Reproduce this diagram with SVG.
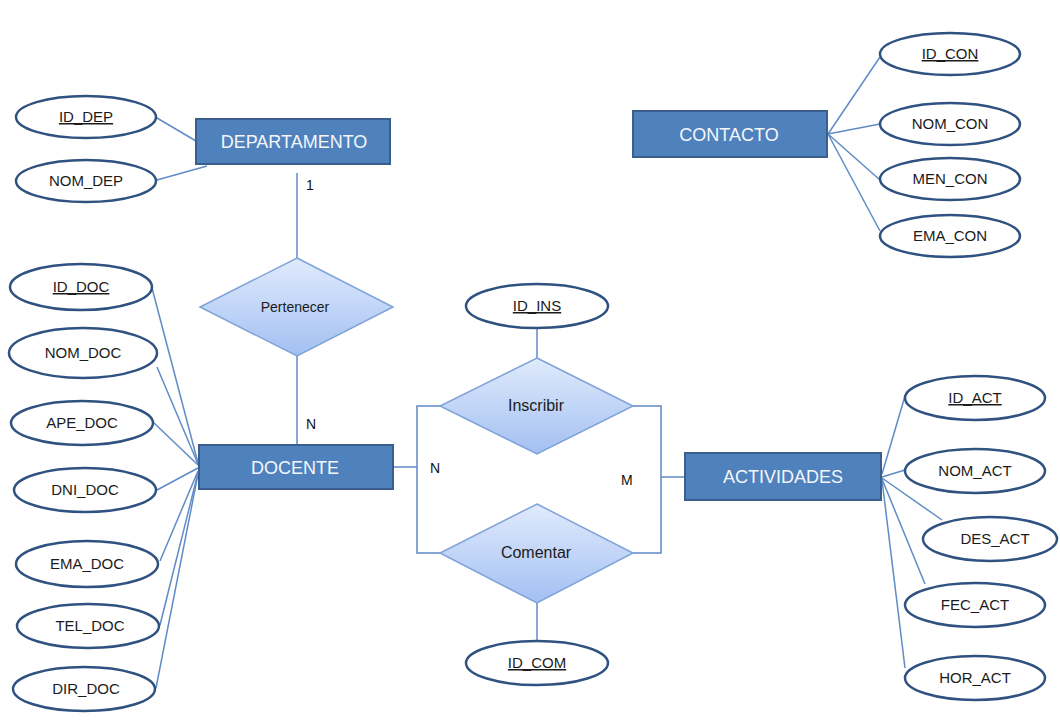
<svg xmlns="http://www.w3.org/2000/svg" width="1060" height="728" viewBox="0 0 1060 728">
  <defs>
    <linearGradient id="relFill" x1="0" y1="0" x2="0" y2="1">
      <stop offset="0" stop-color="#e0ebfc"/>
      <stop offset="1" stop-color="#a3c0f2"/>
    </linearGradient>
    <style>
      .entity rect { fill: #4f81bd; stroke: #3a5f8e; stroke-width: 2; }
      .entity text { font-family: "Liberation Sans", Arial, sans-serif; font-size: 18px; fill: #f4f6fa; text-anchor: middle; }
      .attr ellipse { fill: #ffffff; stroke: #2f5280; stroke-width: 2.5; }
      .attr text { font-family: "Liberation Sans", Arial, sans-serif; font-size: 15px; fill: #1b1b1b; text-anchor: middle; }
      .attr text.key { text-decoration: underline; }
      .rel polygon { fill: url(#relFill); stroke: #7fa3d8; stroke-width: 1.5; }
      .rel text { font-family: "Liberation Sans", Arial, sans-serif; font-size: 16px; fill: #1b1b1b; text-anchor: middle; }
      .connectors path, .connectors line { fill: none; stroke: #5f8bc7; stroke-width: 1.5; }
      .card { font-family: "Liberation Sans", Arial, sans-serif; font-size: 14px; fill: #111111; }
    </style>
  </defs>
  <rect width="1060" height="728" fill="#ffffff"/>

  <!-- connectors -->
  <g class="connectors">
    <!-- DEPARTAMENTO attributes -->
    <line x1="157" y1="118" x2="196" y2="141"/>
    <line x1="157" y1="180" x2="207" y2="166"/>
    <!-- DEPARTAMENTO - Pertenecer - DOCENTE -->
    <line x1="297" y1="173" x2="297" y2="258"/>
    <line x1="297" y1="356" x2="297" y2="445"/>
    <!-- DOCENTE attributes -->
    <line x1="152" y1="288" x2="198" y2="463"/>
    <line x1="157" y1="367" x2="198" y2="464"/>
    <line x1="154" y1="423" x2="198" y2="465"/>
    <line x1="157" y1="490" x2="198" y2="468"/>
    <line x1="160" y1="561" x2="198" y2="471"/>
    <line x1="160" y1="625" x2="198" y2="473"/>
    <line x1="156" y1="688" x2="198" y2="474"/>
    <!-- DOCENTE - Inscribir / Comentar -->
    <line x1="393" y1="467" x2="417" y2="467"/>
    <path d="M440 406 H417 V553 H440"/>
    <!-- Inscribir / Comentar - ACTIVIDADES -->
    <path d="M633 406 H661 V553 H633"/>
    <line x1="661" y1="477" x2="685" y2="477"/>
    <!-- relationship attributes -->
    <line x1="537" y1="329" x2="537" y2="358"/>
    <line x1="537" y1="603" x2="537" y2="641"/>
    <!-- ACTIVIDADES attributes -->
    <line x1="882" y1="474" x2="905" y2="396"/>
    <line x1="882" y1="477" x2="905" y2="470"/>
    <line x1="882" y1="478" x2="942" y2="520"/>
    <line x1="882" y1="479" x2="925" y2="584"/>
    <line x1="882" y1="480" x2="905" y2="668"/>
    <!-- CONTACTO attributes -->
    <line x1="828" y1="134" x2="880" y2="57"/>
    <line x1="828" y1="134" x2="880" y2="124"/>
    <line x1="828" y1="134" x2="880" y2="180"/>
    <line x1="828" y1="134" x2="880" y2="231"/>
  </g>

  <!-- cardinalities -->
  <text class="card" x="306" y="190">1</text>
  <text class="card" x="306" y="429">N</text>
  <text class="card" x="430" y="473">N</text>
  <text class="card" x="621" y="485">M</text>

  <!-- DEPARTAMENTO -->
  <g id="departamento" class="entity">
    <rect x="196" y="119" width="194" height="45"/>
    <text x="294" y="148">DEPARTAMENTO</text>
  </g>
  <g id="id_dep" class="attr">
    <ellipse cx="86" cy="117" rx="70" ry="21"/>
    <text class="key" x="86" y="122">ID_DEP</text>
  </g>
  <g id="nom_dep" class="attr">
    <ellipse cx="86" cy="181" rx="70" ry="21"/>
    <text x="86" y="186">NOM_DEP</text>
  </g>

  <!-- Pertenecer -->
  <g id="pertenecer" class="rel">
    <polygon points="297,258 393,307 297,356 200,307"/>
    <text x="295" y="312" style="font-size:14px">Pertenecer</text>
  </g>

  <!-- DOCENTE -->
  <g id="docente" class="entity">
    <rect x="199" y="445" width="194" height="44"/>
    <text x="295" y="474">DOCENTE</text>
  </g>
  <g id="id_doc" class="attr">
    <ellipse cx="81" cy="287" rx="71" ry="23"/>
    <text class="key" x="81" y="292">ID_DOC</text>
  </g>
  <g id="nom_doc" class="attr">
    <ellipse cx="83" cy="353" rx="74" ry="25"/>
    <text x="83" y="358">NOM_DOC</text>
  </g>
  <g id="ape_doc" class="attr">
    <ellipse cx="82" cy="423" rx="71" ry="22"/>
    <text x="82" y="428">APE_DOC</text>
  </g>
  <g id="dni_doc" class="attr">
    <ellipse cx="85" cy="490" rx="71" ry="22"/>
    <text x="85" y="495">DNI_DOC</text>
  </g>
  <g id="ema_doc" class="attr">
    <ellipse cx="87" cy="564" rx="71" ry="23"/>
    <text x="87" y="569">EMA_DOC</text>
  </g>
  <g id="tel_doc" class="attr">
    <ellipse cx="88" cy="626" rx="71" ry="22"/>
    <text x="90" y="631">TEL_DOC</text>
  </g>
  <g id="dir_doc" class="attr">
    <ellipse cx="84" cy="689" rx="71" ry="22"/>
    <text x="86" y="694">DIR_DOC</text>
  </g>

  <!-- Inscribir -->
  <g id="inscribir" class="rel">
    <polygon points="537,358 633,406 537,454 440,406"/>
    <text x="536" y="411">Inscribir</text>
  </g>
  <g id="id_ins" class="attr">
    <ellipse cx="537" cy="306" rx="71" ry="22"/>
    <text class="key" x="537" y="311">ID_INS</text>
  </g>

  <!-- Comentar -->
  <g id="comentar" class="rel">
    <polygon points="537,504 633,553 537,603 440,553"/>
    <text x="536" y="558">Comentar</text>
  </g>
  <g id="id_com" class="attr">
    <ellipse cx="537" cy="663" rx="71" ry="22"/>
    <text class="key" x="537" y="668">ID_COM</text>
  </g>

  <!-- ACTIVIDADES -->
  <g id="actividades" class="entity">
    <rect x="685" y="453" width="196" height="47"/>
    <text x="783" y="483">ACTIVIDADES</text>
  </g>
  <g id="id_act" class="attr">
    <ellipse cx="975" cy="398" rx="70" ry="22"/>
    <text class="key" x="975" y="403">ID_ACT</text>
  </g>
  <g id="nom_act" class="attr">
    <ellipse cx="975" cy="471" rx="70" ry="22"/>
    <text x="975" y="476">NOM_ACT</text>
  </g>
  <g id="des_act" class="attr">
    <ellipse cx="990" cy="539" rx="67" ry="22"/>
    <text x="995" y="544">DES_ACT</text>
  </g>
  <g id="fec_act" class="attr">
    <ellipse cx="975" cy="605" rx="70" ry="22"/>
    <text x="975" y="610">FEC_ACT</text>
  </g>
  <g id="hor_act" class="attr">
    <ellipse cx="975" cy="678" rx="70" ry="22"/>
    <text x="975" y="683">HOR_ACT</text>
  </g>

  <!-- CONTACTO -->
  <g id="contacto" class="entity">
    <rect x="633" y="111" width="194" height="46"/>
    <text x="729" y="141">CONTACTO</text>
  </g>
  <g id="id_con" class="attr">
    <ellipse cx="950" cy="54" rx="70" ry="21"/>
    <text class="key" x="950" y="59">ID_CON</text>
  </g>
  <g id="nom_con" class="attr">
    <ellipse cx="950" cy="124" rx="70" ry="21"/>
    <text x="950" y="129">NOM_CON</text>
  </g>
  <g id="men_con" class="attr">
    <ellipse cx="950" cy="179" rx="70" ry="21"/>
    <text x="950" y="184">MEN_CON</text>
  </g>
  <g id="ema_con" class="attr">
    <ellipse cx="950" cy="236" rx="70" ry="21"/>
    <text x="950" y="241">EMA_CON</text>
  </g>
</svg>
